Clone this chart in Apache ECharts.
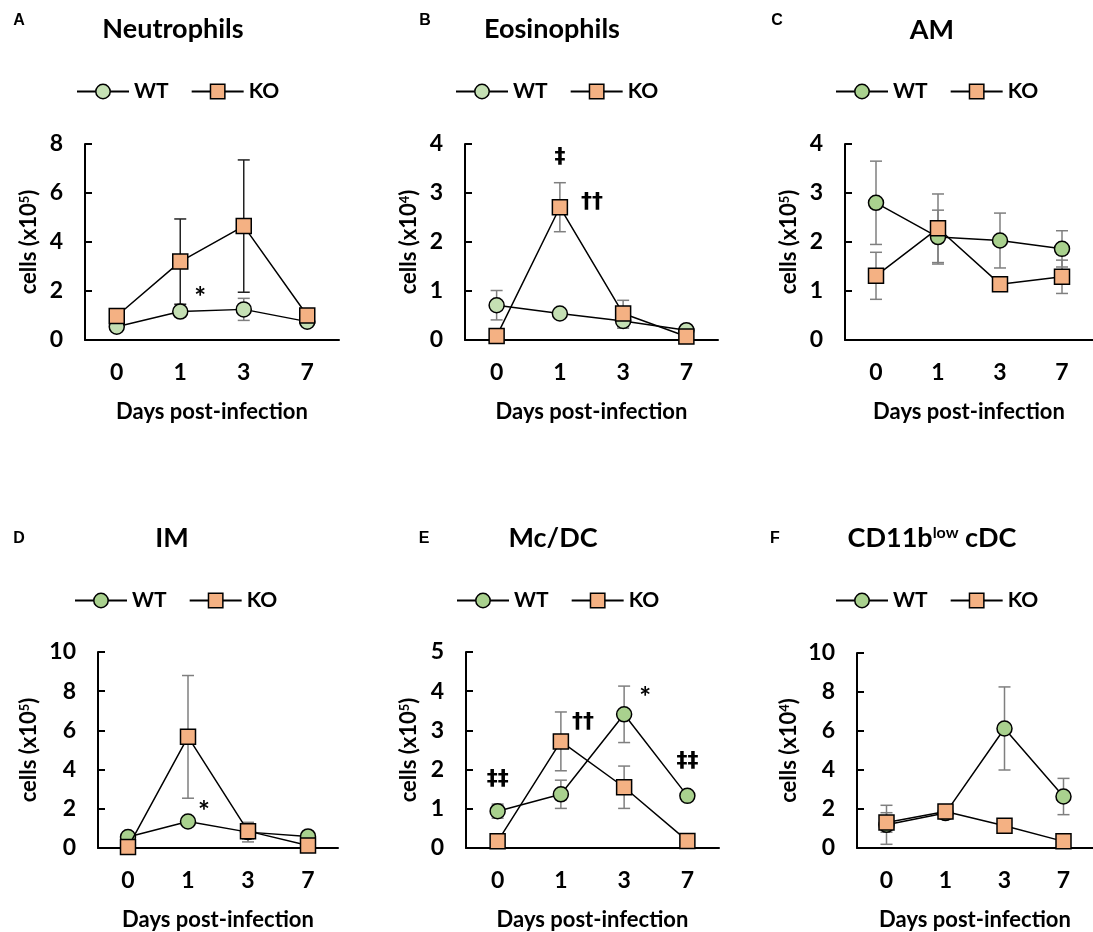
<!DOCTYPE html>
<html><head><meta charset="utf-8">
<script src="https://cdn.jsdelivr.net/npm/echarts@6/dist/echarts.min.js"></script>
<style>html,body{margin:0;padding:0;background:#fff}#c{width:1093px;height:932px}</style>
</head><body><div id="c"></div>
<script>
// ---------- DATA ----------
const days = ['0', '1', '3', '7'];
const panelLetters = ['A', 'B', 'C', 'D', 'E', 'F'];
const titleMain = ['Neutrophils', 'Eosinophils', 'AM', 'IM', 'Mc/DC', 'CD11b'];
const titleSup = ['', '', '', '', '', 'low'];
const titleTail = ['', '', '', '', '', ' cDC'];
const yMax = [8, 4, 4, 10, 5, 10];
const yInterval = [2, 1, 1, 2, 1, 2];
const yExp = ['5', '4', '5', '5', '5', '4'];
const seriesNames = ['WT', 'KO'];

// A Neutrophils (x10^5)
const wtA = [0.54, 1.16, 1.25, 0.75];
const wtErrA = [0.1, 0.2, 0.45, 0.1];
const koA = [0.98, 3.2, 4.65, 1.0];
const koErrA = [0.1, 1.74, 2.7, 0.1];
// B Eosinophils (x10^4)
const wtB = [0.71, 0.54, 0.39, 0.2];
const wtErrB = [0.3, 0.05, 0.15, 0.05];
const koB = [0.08, 2.71, 0.54, 0.07];
const koErrB = [0.02, 0.5, 0.27, 0.02];
// C AM (x10^5)
const wtC = [2.8, 2.1, 2.03, 1.86];
const wtErrC = [0.85, 0.55, 0.56, 0.37];
const koC = [1.31, 2.28, 1.14, 1.29];
const koErrC = [0.48, 0.7, 0.08, 0.34];
// D IM (x10^5)
const wtD = [0.56, 1.35, 0.81, 0.59];
const wtErrD = [0.1, 0.15, 0.5, 0.1];
const koD = [0.05, 5.67, 0.86, 0.13];
const koErrD = [0.02, 3.13, 0.4, 0.05];
// E Mc/DC (x10^5)
const wtE = [0.94, 1.37, 3.41, 1.33];
const wtErrE = [0.18, 0.36, 0.72, 0.08];
const koE = [0.17, 2.72, 1.55, 0.18];
const koErrE = [0.02, 0.75, 0.54, 0.02];
// F CD11b-low cDC (x10^4)
const wtF = [1.19, 1.79, 6.13, 2.64];
const wtErrF = [1.0, 0.3, 2.13, 0.93];
const koF = [1.31, 1.87, 1.14, 0.34];
const koErrF = [0.5, 0.35, 0.1, 0.05];

// significance annotations: [category index, value, text]
const annA = [[1, 1.71, '*']];
const annB = [[1, 3.73, '\u2021'], [1, 2.82, '\u2020\u2020']];
const annC = [];
const annD = [[1, 1.83, '*']];
const annE = [[0, 1.75, '\u2021\u2021'], [1, 3.2, '\u2020\u2020'], [2, 3.83, '*'], [3, 2.21, '\u2021\u2021']];
const annF = [];

const wtAll = [wtA, wtB, wtC, wtD, wtE, wtF];
const wtErrAll = [wtErrA, wtErrB, wtErrC, wtErrD, wtErrE, wtErrF];
const koAll = [koA, koB, koC, koD, koE, koF];
const koErrAll = [koErrA, koErrB, koErrC, koErrD, koErrE, koErrF];
const annAll = [annA, annB, annC, annD, annE, annF];

// ---------- LAYOUT / STYLE ----------
const FONT = 'Lato, "Open Sans", sans-serif';
const grids = [
  {left: 85, top: 144, width: 254, height: 196},
  {left: 465, top: 144, width: 253, height: 196},
  {left: 845, top: 144, width: 253, height: 196},
  {left: 98, top: 652, width: 240, height: 197},
  {left: 466, top: 652, width: 253, height: 197},
  {left: 857, top: 653, width: 242, height: 195}
];
const yNameGap = [45, 45, 45, 58, 46, 57];
const annOffset = [
  [[20, 0]],
  [[0, 0], [32, 0]],
  [],
  [[16, 0]],
  [[0, 0], [22, 0], [21, 0], [0, 0]],
  []
];
const titlePos = [[173, 29], [552, 29], [932, 30], [172, 538], [553, 538], [932, 538]];
const letterPos = [[19, 21], [425, 21], [777, 21], [19, 539], [424, 539], [775, 539]];
const legendPos = [[71, 76], [450, 76], [830, 76], [69, 585], [451, 585], [830, 585]];
const wtFill = ['#c5e0b4', '#c5e0b4', '#a9d18e', '#a9d18e', '#a9d18e', '#a9d18e'];
const koFill = '#f4b183';
const errColorWT = ['#7f7f7f', '#7f7f7f', '#7f7f7f', '#7f7f7f', '#7f7f7f', '#7f7f7f'];
const errColorKO = ['#222', '#7f7f7f', '#7f7f7f', '#7f7f7f', '#7f7f7f', '#7f7f7f'];

function errRenderer(color) {
  return function (params, api) {
    const x = api.value(0), m = api.value(1), e = api.value(2);
    const top = api.coord([x, m + e]);
    const bot = api.coord([x, Math.max(0, m - e)]);
    const hw = 6;
    const style = {stroke: color, lineWidth: 1.5, fill: null};
    return {
      type: 'group', children: [
        {type: 'line', shape: {x1: top[0], y1: top[1], x2: bot[0], y2: bot[1]}, style: style},
        {type: 'line', shape: {x1: top[0] - hw, y1: top[1], x2: top[0] + hw, y2: top[1]}, style: style},
        {type: 'line', shape: {x1: bot[0] - hw, y1: bot[1], x2: bot[0] + hw, y2: bot[1]}, style: style}
      ]
    };
  };
}

const option = {
  animation: false,
  backgroundColor: '#fff',
  grid: [], xAxis: [], yAxis: [], series: [], legend: [], graphic: []
};

for (let i = 0; i < 6; i++) {
  option.grid.push(Object.assign({containLabel: false}, grids[i]));
  option.xAxis.push({
    type: 'category', gridIndex: i, data: days, boundaryGap: true,
    name: 'Days post-infection', nameLocation: 'middle', nameGap: 61,
    nameTextStyle: {fontFamily: FONT, fontWeight: 'bold', fontSize: 22, color: '#000'},
    axisLine: {lineStyle: {color: '#000', width: 2}},
    axisTick: {inside: true, length: 6, alignWithLabel: false, lineStyle: {color: '#000', width: 2}},
    axisLabel: {margin: 21, fontFamily: FONT, fontWeight: 'bold', fontSize: 23, color: '#000'},
    splitLine: {show: false}
  });
  option.yAxis.push({
    type: 'value', gridIndex: i, min: 0, max: yMax[i], interval: yInterval[i],
    name: '{a|cells (x10}{s|' + yExp[i] + '}{a|)}', nameLocation: 'middle', nameGap: yNameGap[i],
    nameTextStyle: {
      color: '#000',
      rich: {
        a: {fontFamily: FONT, fontWeight: 'bold', fontSize: 22, color: '#000'},
        s: {fontFamily: FONT, fontWeight: 'bold', fontSize: 13, color: '#000', verticalAlign: 'top', padding: [0, 0, 9, 0]}
      }
    },
    axisLine: {show: true, lineStyle: {color: '#000', width: 2}},
    axisTick: {show: true, inside: true, length: 7, lineStyle: {color: '#000', width: 2}},
    axisLabel: {margin: 22, fontFamily: FONT, fontWeight: 'bold', fontSize: 23, color: '#000'},
    splitLine: {show: false}
  });

  // error bars
  option.series.push({
    type: 'custom', xAxisIndex: i, yAxisIndex: i, z: 1, silent: true,
    encode: {x: 0, y: 1},
    renderItem: errRenderer(errColorWT[i]),
    data: wtAll[i].map((v, k) => [k, v, wtErrAll[i][k]])
  });
  option.series.push({
    type: 'custom', xAxisIndex: i, yAxisIndex: i, z: 1, silent: true,
    encode: {x: 0, y: 1},
    renderItem: errRenderer(errColorKO[i]),
    data: koAll[i].map((v, k) => [k, v, koErrAll[i][k]])
  });

  option.series.push({
    name: 'WT', type: 'line', xAxisIndex: i, yAxisIndex: i, z: 3,
    data: wtAll[i], symbol: 'circle', symbolSize: 15,
    lineStyle: {color: '#000', width: 1.5},
    itemStyle: {color: wtFill[i], borderColor: '#000', borderWidth: 1.5},
    emphasis: {disabled: true}
  });
  option.series.push({
    name: 'KO', type: 'line', xAxisIndex: i, yAxisIndex: i, z: 4,
    data: koAll[i], symbol: 'rect', symbolSize: 15,
    lineStyle: {color: '#000', width: 1.5},
    itemStyle: {color: koFill, borderColor: '#000', borderWidth: 1.5},
    emphasis: {disabled: true},
    markPoint: {
      silent: true, symbol: 'rect', symbolSize: 1,
      itemStyle: {color: 'rgba(0,0,0,0)'},
      label: {show: true, position: 'inside', color: '#000', fontWeight: 'bold', fontSize: 21},
      data: annAll[i].map((a, k) => ({
        coord: [a[0], a[1]], value: a[2],
        label: {
          formatter: a[2], offset: annOffset[i][k],
          fontSize: a[2] === '*' ? 28 : 22,
          fontFamily: a[2] === '*' ? FONT : '"DejaVu Sans", sans-serif'
        }
      }))
    }
  });

  option.legend.push({
    left: legendPos[i][0], top: legendPos[i][1], orient: 'horizontal',
    itemWidth: 52, itemHeight: 18, itemGap: 22,
    selectedMode: false,
    textStyle: {fontFamily: FONT, fontWeight: 'bold', fontSize: 21, color: '#000'},
    data: [
      {name: 'WT', itemStyle: {color: wtFill[i], borderColor: '#000', borderWidth: 1.5}},
      {name: 'KO', itemStyle: {color: koFill, borderColor: '#000', borderWidth: 1.5}}
    ]
  });

  // panel title
  option.graphic.push({
    type: 'text', x: titlePos[i][0], y: titlePos[i][1],
    style: {
      text: '{t|' + titleMain[i] + '}' + (titleSup[i] ? '{s|' + titleSup[i] + '}' : '') + (titleTail[i] ? '{t|' + titleTail[i] + '}' : ''),
      align: 'center', verticalAlign: 'middle',
      rich: {
        t: {fontFamily: FONT, fontWeight: 'bold', fontSize: 27, fill: '#000'},
        s: {fontFamily: FONT, fontWeight: 'bold', fontSize: 16, fill: '#000', verticalAlign: 'top', padding: [0, 0, 11, 0]}
      }
    }
  });
  // panel letter
  option.graphic.push({
    type: 'text', x: letterPos[i][0], y: letterPos[i][1],
    style: {
      text: panelLetters[i], align: 'center', verticalAlign: 'middle',
      font: 'bold 16px "Liberation Sans", Arial, sans-serif', fill: '#000'
    }
  });
}

const chart = echarts.init(document.getElementById('c'));
chart.setOption(option);
</script>
</body></html>
